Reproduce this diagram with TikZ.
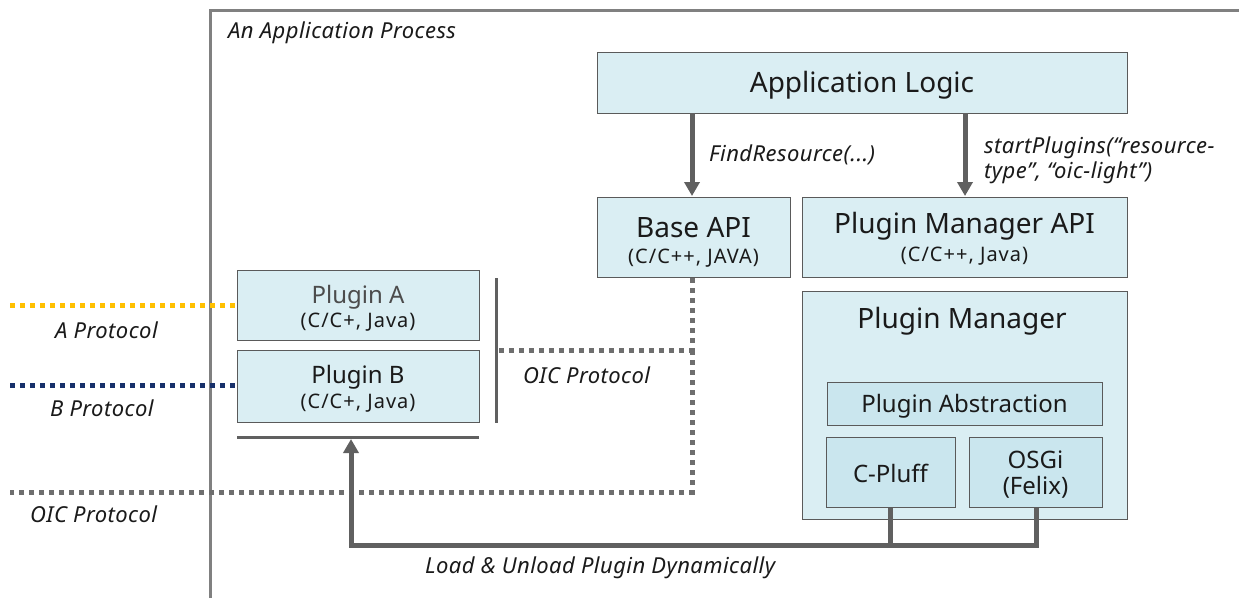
\documentclass[tikz,border=0pt]{standalone}
\usepackage{fontspec}
\setmainfont{Noto Sans}
\newfontfamily\spacedsmall[LetterSpace=5]{Noto Sans}
\newfontfamily\spacedital[LetterSpace=2]{Noto Sans Italic}
\usetikzlibrary{arrows.meta}
\definecolor{boxfill}{HTML}{DAEEF3}
\definecolor{innerfill}{HTML}{CAE6EE}
\definecolor{boxline}{HTML}{5A5A5A}
\definecolor{framegray}{HTML}{808080}
\definecolor{arrowgray}{HTML}{606060}
\definecolor{oicgray}{HTML}{6E6E6E}
\definecolor{aprot}{HTML}{FFC000}
\definecolor{bprot}{HTML}{17306A}
\definecolor{txt}{HTML}{1A1A1A}
\tikzset{
  box/.style={draw=boxline, line width=1.2pt, fill=boxfill, anchor=north west, inner sep=0pt},
  innerbox/.style={box, fill=innerfill},
  big/.style={font=\fontsize{28}{32}\selectfont, text=txt, inner sep=0pt},
  mid/.style={font=\fontsize{24}{28}\selectfont, text=txt, inner sep=0pt},
  small/.style={font=\spacedsmall\fontsize{20}{24}\selectfont, text=txt, inner sep=0pt},
  lbl/.style={font=\spacedital\fontsize{22}{25}\selectfont, text=txt, inner sep=0pt},
  fatarrow/.style={draw=arrowgray, line width=5pt, -{Triangle[width=15pt,length=14pt]}},
  fatline/.style={draw=arrowgray, line width=5pt},
  dotline/.style={line width=5pt, dash pattern=on 5pt off 5pt},
  barline/.style={draw=arrowgray, line width=3pt}
}
\begin{document}
\begin{tikzpicture}[x=1pt,y=-1pt]
\useasboundingbox (0,0) rectangle (1239,598);
\fill[white] (0,0) rectangle (1239,598);
% frame
\coordinate (fbl) at (210,598);
\coordinate (ftl) at (210,10);
\coordinate (ftr) at (1239,10);
\draw[framegray, line width=3pt] (fbl) -- (ftl) -- (ftr);
\node[lbl, anchor=west] (proc) at (228,33) {An Application Process};

% boxes
\node[box, minimum width=530pt, minimum height=61pt] (logic) at (597,52) {};
\node[big] (logict) at (862,85) {Application Logic};

\node[box, minimum width=193pt, minimum height=80pt] (base) at (597,197) {};
\node[big] (baset) at (693.5,228) {Base API};
\node[small] (bases) at (693.5,258) {(C/C++, JAVA)};

\node[box, minimum width=325pt, minimum height=80pt] (pmapi) at (802,197) {};
\node[big] (pmapit) at (964.5,226) {Plugin Manager API};
\node[small] (pmapis) at (964.5,256) {(C/C++, Java)};

\node[box, minimum width=325pt, minimum height=228pt] (pm) at (802,291) {};
\node[big] (pmt) at (962,321) {Plugin Manager};

\node[innerbox, minimum width=275pt, minimum height=43pt] (abs) at (827,382) {};
\node[mid] (abst) at (964.5,406) {Plugin Abstraction};

\node[innerbox, minimum width=129pt, minimum height=70pt] (cpluff) at (826,437) {};
\node[mid] (cplufft) at (890.5,473) {C-Pluff};

\node[innerbox, minimum width=133pt, minimum height=70pt] (osgi) at (969,437) {};
\node[mid] (osgit) at (1035.5,460) {OSGi};
\node[mid] (osgis) at (1035.5,487) {(Felix)};

\node[box, minimum width=242pt, minimum height=70pt] (pa) at (237,270) {};
\node[mid, text=black!70] (pat) at (358,297) {Plugin A};
\node[small] (pas) at (358,322) {(C/C+, Java)};

\node[box, minimum width=242pt, minimum height=72pt] (pb) at (237,350) {};
\node[mid] (pbt) at (358,377) {Plugin B};
\node[small] (pbs) at (358,403) {(C/C+, Java)};

% bars
\coordinate (hb1) at (237,437);
\coordinate (hb2) at (479,437);
\draw[barline] (hb1) -- (hb2);
\coordinate (vb1) at (496,278);
\coordinate (vb2) at (496,423);
\draw[barline] (vb1) -- (vb2);

% arrows from logic
\draw[fatarrow] (692,113) -- (692,196);
\draw[fatarrow] (965,113) -- (965,196);
\node[lbl, anchor=west] (findl) at (709,155) {FindResource(...)};
\node[lbl, anchor=west, align=left] (startl) at (984,160) {startPlugins(“resource-\\type”, “oic-light”)};

% OIC protocol dotted
\coordinate (oicj) at (692,350);
\coordinate (oicb) at (692,492);
\coordinate (oicl) at (10,492);
\coordinate (oicr) at (497,350);
\draw[dotline, oicgray] (base.south -| oicj) -- (oicj) -- (oicr);
\draw[dotline, oicgray] (oicj) -- (oicb) -- (oicl);
\node[lbl, anchor=west] (oicl1) at (523,375) {OIC Protocol};
\node[lbl, anchor=west] (oicl2) at (30,514) {OIC Protocol};

% A and B protocol
\coordinate (al) at (10,305);
\coordinate (bl) at (10,385);
\draw[dotline, aprot] (al) -- (al -| pa.west);
\draw[dotline, bprot] (bl) -- (bl -| pb.west);
\node[lbl, anchor=west] (apl) at (55,330) {A Protocol};
\node[lbl, anchor=west] (bpl) at (50,408) {B Protocol};

% load arrow
\coordinate (lc) at (890,545);
\coordinate (lo) at (1036,545);
\coordinate (ll) at (351,545);
\coordinate (ltip) at (351,439);
\draw[fatline] (cpluff.south -| lc) -- (lc);
\draw[fatline, line cap=butt] (osgi.south -| lo) -- (lo) -- (ll);
\draw[fatarrow, line join=miter] (lo) -- (ll) -- (ltip);
\node[lbl, anchor=west] (loadl) at (425,568) {Load \& Unload Plugin Dynamically};
\end{tikzpicture}
\end{document}
